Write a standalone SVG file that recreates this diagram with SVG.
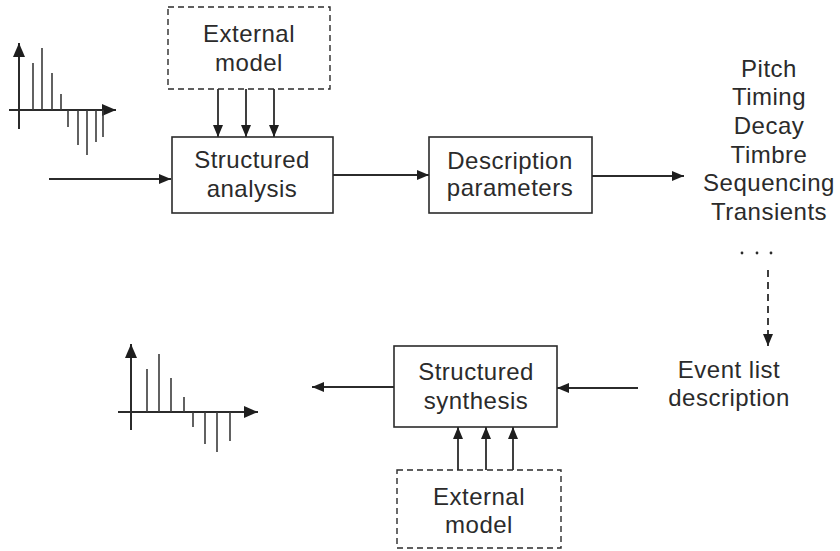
<svg xmlns="http://www.w3.org/2000/svg" width="840" height="551" viewBox="0 0 840 551">
  <style>
    text { font-family: "Liberation Sans", Arial, sans-serif; font-size: 24px; fill: #2b2b2b; text-anchor: middle; letter-spacing: 0.5px; }
    .box { fill: #ffffff; stroke: #2b2b2b; stroke-width: 1.6; }
    .dbox { fill: #ffffff; stroke: #2b2b2b; stroke-width: 1.4; stroke-dasharray: 6 4; }
    .ln { stroke: #2b2b2b; stroke-width: 1.8; fill: none; }
    .dln { stroke: #2b2b2b; stroke-width: 1.8; fill: none; stroke-dasharray: 7 5; }
    .stem { stroke: #3a3a3a; stroke-width: 1.6; }
    .ax { stroke: #2b2b2b; stroke-width: 2; }
    .dot { fill: #2b2b2b; }
  </style>
  <defs>
    <marker id="ah" viewBox="0 0 12 10" refX="12" refY="5" markerWidth="12" markerHeight="10" markerUnits="userSpaceOnUse" orient="auto">
      <path d="M0,0 L12,5 L0,10 Z" fill="#1e1e1e"/>
    </marker>
    <marker id="axh" viewBox="0 0 14 12" refX="14" refY="6" markerWidth="14" markerHeight="12" markerUnits="userSpaceOnUse" orient="auto">
      <path d="M0,0 L14,6 L0,12 Z" fill="#1e1e1e"/>
    </marker>
  </defs>

  <!-- input signal plot -->
  <g id="input-signal">
    <line class="ax" x1="19" y1="129" x2="19" y2="43" marker-end="url(#axh)"/>
    <line class="ax" x1="9" y1="110" x2="116" y2="110" marker-end="url(#axh)"/>
    <line class="stem" x1="33" y1="110" x2="33" y2="63"/>
    <line class="stem" x1="42" y1="110" x2="42" y2="48"/>
    <line class="stem" x1="52" y1="110" x2="52" y2="73"/>
    <line class="stem" x1="61" y1="110" x2="61" y2="94"/>
    <line class="stem" x1="68" y1="110" x2="68" y2="127"/>
    <line class="stem" x1="78" y1="110" x2="78" y2="145"/>
    <line class="stem" x1="87" y1="110" x2="87" y2="155"/>
    <line class="stem" x1="96" y1="110" x2="96" y2="142"/>
    <line class="stem" x1="103" y1="110" x2="103" y2="137"/>
  </g>

  <!-- output signal plot -->
  <g id="output-signal">
    <line class="ax" x1="131" y1="430" x2="131" y2="344" marker-end="url(#axh)"/>
    <line class="ax" x1="118" y1="412" x2="258" y2="412" marker-end="url(#axh)"/>
    <line class="stem" x1="147" y1="412" x2="147" y2="369"/>
    <line class="stem" x1="159" y1="412" x2="159" y2="354"/>
    <line class="stem" x1="171" y1="412" x2="171" y2="378"/>
    <line class="stem" x1="184" y1="412" x2="184" y2="397"/>
    <line class="stem" x1="193" y1="412" x2="193" y2="427"/>
    <line class="stem" x1="205" y1="412" x2="205" y2="444"/>
    <line class="stem" x1="217" y1="412" x2="217" y2="452"/>
    <line class="stem" x1="230" y1="412" x2="230" y2="441"/>
  </g>

  <!-- connectors -->
  <g id="connectors">
    <line class="ln" x1="49" y1="179" x2="171" y2="179" marker-end="url(#ah)"/>
    <line class="ln" x1="218" y1="89" x2="218" y2="137" marker-end="url(#ah)"/>
    <line class="ln" x1="246" y1="89" x2="246" y2="137" marker-end="url(#ah)"/>
    <line class="ln" x1="274" y1="89" x2="274" y2="137" marker-end="url(#ah)"/>
    <line class="ln" x1="333" y1="175" x2="429" y2="175" marker-end="url(#ah)"/>
    <line class="ln" x1="592" y1="176" x2="684" y2="176" marker-end="url(#ah)"/>
    <line class="dln" x1="768" y1="270" x2="768" y2="346" marker-end="url(#ah)"/>
    <line class="ln" x1="638" y1="388" x2="557" y2="388" marker-end="url(#ah)"/>
    <line class="ln" x1="394" y1="387" x2="312" y2="387" marker-end="url(#ah)"/>
    <line class="ln" x1="458" y1="470" x2="458" y2="427" marker-end="url(#ah)"/>
    <line class="ln" x1="486" y1="470" x2="486" y2="427" marker-end="url(#ah)"/>
    <line class="ln" x1="513" y1="470" x2="513" y2="427" marker-end="url(#ah)"/>
  </g>

  <g id="external-model-top">
    <rect class="dbox" x="168" y="7" width="162" height="82"/>
    <text x="249" y="42">External</text>
    <text x="249" y="71">model</text>
  </g>

  <g id="structured-analysis">
    <rect class="box" x="172" y="137" width="161" height="76"/>
    <text x="252" y="168">Structured</text>
    <text x="252" y="197">analysis</text>
  </g>

  <g id="description-parameters">
    <rect class="box" x="429" y="137" width="163" height="76"/>
    <text x="510" y="169">Description</text>
    <text x="510" y="196">parameters</text>
  </g>

  <g id="parameter-list">
    <text x="769" y="77">Pitch</text>
    <text x="769" y="105">Timing</text>
    <text x="769" y="134">Decay</text>
    <text x="769" y="163">Timbre</text>
    <text x="769" y="191">Sequencing</text>
    <text x="769" y="220">Transients</text>
    <circle class="dot" cx="742" cy="253" r="1.4"/>
    <circle class="dot" cx="757" cy="253" r="1.4"/>
    <circle class="dot" cx="771" cy="253" r="1.4"/>
  </g>

  <g id="event-list">
    <text x="729" y="378">Event list</text>
    <text x="729" y="406">description</text>
  </g>

  <g id="structured-synthesis">
    <rect class="box" x="394" y="346" width="163" height="81"/>
    <text x="476" y="380">Structured</text>
    <text x="476" y="409">synthesis</text>
  </g>

  <g id="external-model-bottom">
    <rect class="dbox" x="397" y="470" width="164" height="78"/>
    <text x="479" y="505">External</text>
    <text x="479" y="533">model</text>
  </g>
</svg>
